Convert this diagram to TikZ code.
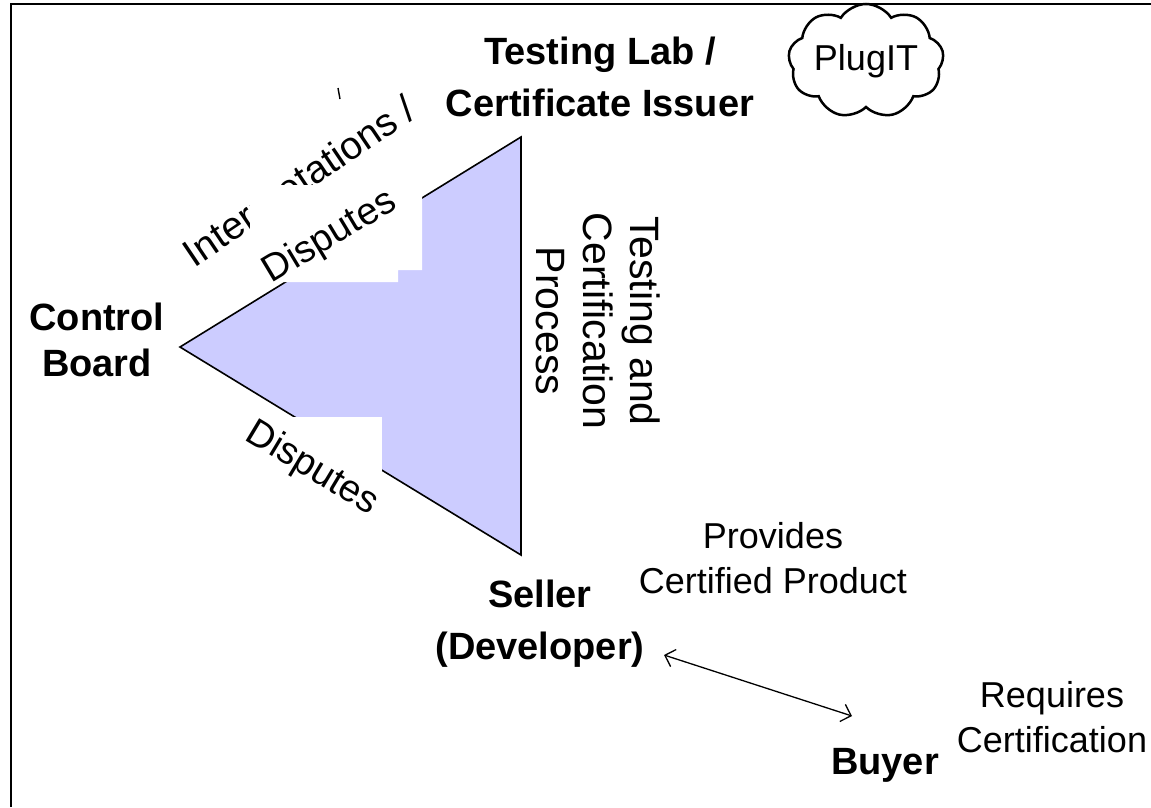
\documentclass[tikz,border=0pt]{standalone}
\usepackage{fontspec}
\setmainfont{Liberation Sans}
\usetikzlibrary{shapes.symbols,arrows.meta}
\definecolor{trifill}{HTML}{CCCCFF}
\tikzset{
  lbl/.style={font=\fontsize{38}{52}\selectfont\bfseries, align=center, inner sep=0pt},
  txt/.style={font=\fontsize{36}{45}\selectfont, align=center, inner sep=0pt},
  rottxt/.style={font=\fontsize{38}{45}\selectfont, align=center, inner sep=0pt},
  whitebox/.style={fill=white, draw=none},
  conn/.style={line width=1.3pt, {Straight Barb[length=9pt,width=18pt]}-{Straight Barb[length=9pt,width=18pt]}},
}
\begin{document}
\begin{tikzpicture}[x=1pt,y=-1pt]
\useasboundingbox (0,0) rectangle (1151,807);
% frame
\draw[line width=2pt] (11,807) -- (11,4) -- (1151,4);
% triangle
\coordinate (tl) at (180,347);
\coordinate (tt) at (521,137);
\coordinate (tb) at (521,555);
\filldraw[fill=trifill, draw=black, line width=1.6pt] (tl) -- (tt) -- (tb) -- cycle;
% labels on the left edges
\node[rottxt, font=\fontsize{39}{45}\selectfont, rotate=34] (interp) at (301,184) {Interpretations /};
\draw[line width=1.4pt] (338,88) -- (340,99);
\fill[whitebox] (250,185) -- (422,185) -- (422,270) -- (398,270) -- (398,282) -- (250,282) -- cycle;
\node[rottxt, rotate=31] (disp1) at (330,237) {Disputes};
\fill[whitebox] (225,417) rectangle (382,530);
\node[rottxt, rotate=-31] (disp2) at (312,469) {Disputes};
% vertex labels
\node[lbl] (lab) at (600,77) {Testing Lab /\\Certificate Issuer};
\node[cloud, draw, line width=2.5pt, cloud puffs=9, cloud puff arc=115, aspect=1.6,
      minimum width=148pt, minimum height=90pt, inner sep=0pt,
      font=\fontsize{36}{40}\selectfont] (plug) at (866,61) {PlugIT};
\node[lbl, font=\fontsize{38}{46}\selectfont\bfseries] (control) at (97,340) {Control\\Board};
\node[txt, rotate=-90, font=\fontsize{41}{47}\selectfont] (tcp) at (598,321) {Testing and\\Certification\\Process};
\node[lbl] (seller) at (540,624) {Seller\\(Developer)};
\node[txt] (provides) at (773,558) {Provides\\Certified Product};
\node[lbl] (buyer) at (885,765) {Buyer};
\node[txt] (requires) at (1052,717) {Requires\\Certification};
% connector
\coordinate (sA) at (664,655);
\coordinate (bA) at (852,716);
\draw[conn] (sA) -- (bA);
\end{tikzpicture}
\end{document}
